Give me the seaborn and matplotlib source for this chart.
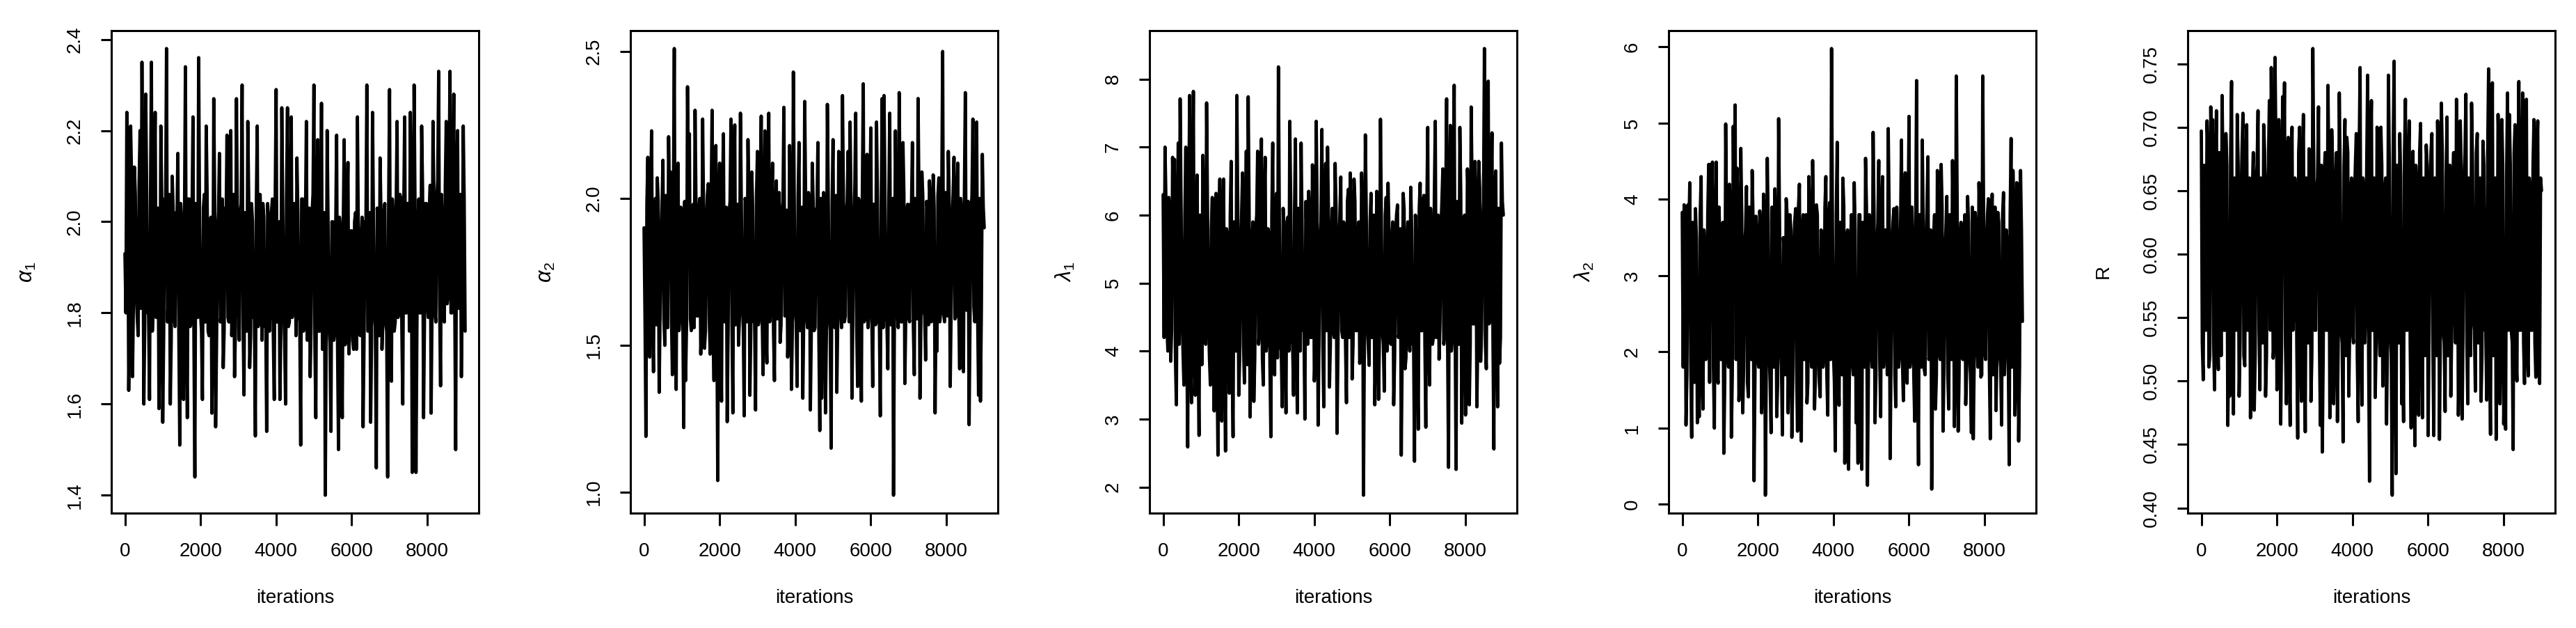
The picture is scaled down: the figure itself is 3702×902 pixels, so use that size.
import numpy as np
import pandas as pd
import matplotlib
matplotlib.use("Agg")
import matplotlib.pyplot as plt
import seaborn as sns

# ---------------- data ----------------
# Each trace is read from the reference in two parts: the excursions seen every
# ~50 iterations ("*_peaks") and the edges of the dense core band between them ("*_core").
n_iter = 9000

alpha1_peaks = [
    1.93, 2.24, 1.63, 2.21, 1.66, 2.12, 1.85, 1.75, 2.20, 2.35,
    1.60, 2.28, 1.80, 1.61, 2.35, 1.82, 2.24, 1.86, 1.59, 2.21,
    1.56, 2.05, 2.38, 1.84, 1.60, 2.10, 1.80, 2.02, 2.15, 1.51,
    2.00, 1.61, 2.34, 1.57, 2.05, 1.78, 2.23, 1.44, 2.02, 2.36,
    1.80, 1.61, 2.06, 2.21, 1.76, 2.00, 1.58, 2.27, 1.55, 1.98,
    2.15, 1.80, 1.68, 2.03, 2.19, 1.78, 2.20, 1.82, 1.66, 2.27,
    1.85, 2.02, 2.30, 1.62, 2.00, 2.22, 1.68, 2.04, 1.79, 1.53,
    2.21, 1.80, 1.98, 2.04, 1.77, 1.54, 2.00, 1.83, 2.05, 1.61,
    2.29, 1.80, 1.61, 2.25, 1.82, 1.60, 2.25, 1.78, 2.23, 1.84,
    2.02, 2.14, 1.80, 1.51, 2.05, 1.78, 2.22, 1.85, 1.66, 2.02,
    2.30, 1.57, 2.18, 1.76, 2.26, 1.82, 1.40, 2.20, 1.78, 1.54,
    2.00, 1.76, 2.19, 1.50, 1.98, 1.57, 2.18, 1.74, 2.13, 1.80,
    1.98, 1.72, 2.02, 2.23, 1.78, 1.96, 1.55, 2.00, 2.30, 1.76,
    1.56, 2.24, 1.80, 1.46, 1.98, 2.14, 1.72, 2.02, 1.78, 1.44,
    2.29, 1.65, 2.00, 1.78, 2.22, 1.82, 2.05, 1.60, 2.23, 1.80,
    2.04, 2.24, 1.45, 2.30, 1.45, 2.00, 1.80, 2.21, 1.57, 2.04,
    1.82, 2.02, 1.58, 2.22, 1.80, 2.05, 2.33, 1.64, 1.98, 1.78,
    2.22, 1.84, 2.33, 1.80, 2.28, 1.50, 2.20, 1.88, 1.66, 2.21,
    1.76,
]
alpha1_core = [
    1.80, 2.08, 1.78, 2.10, 1.82, 2.06, 1.79, 2.09, 1.81, 2.05,
    1.78, 2.07, 1.80, 2.04, 1.76, 2.06, 1.79, 2.03, 1.77, 2.05,
    1.75, 2.02, 1.78, 2.06, 1.74, 2.03, 1.77, 2.00, 1.76, 2.04,
    1.78, 2.01, 1.75, 2.05, 1.77, 2.02, 1.74, 2.04, 1.79, 2.00,
    1.76, 2.03, 1.78, 2.06, 1.75, 2.01, 1.77, 2.04, 1.74, 2.02,
    1.78, 2.05, 1.76, 2.00, 1.79, 2.03, 1.75, 2.06, 1.77, 2.01,
    1.74, 2.04, 1.78, 2.02, 1.76, 2.05, 1.75, 2.00, 1.79, 2.03,
    1.77, 2.06, 1.74, 2.01, 1.78, 2.04, 1.76, 2.02, 1.75, 2.05,
    1.78, 2.00, 1.76, 2.03, 1.74, 2.06, 1.77, 2.01, 1.79, 2.04,
    1.75, 2.02, 1.78, 2.05, 1.76, 2.00, 1.74, 2.03, 1.77, 2.06,
    1.73, 2.01, 1.76, 1.98, 1.72, 2.02, 1.75, 1.99, 1.73, 2.00,
    1.74, 1.98, 1.72, 2.01, 1.75, 1.99, 1.73, 2.02, 1.71, 1.98,
    1.74, 2.00, 1.72, 1.98, 1.75, 2.01, 1.73, 1.99, 1.76, 2.02,
    1.74, 2.00, 1.77, 2.03, 1.75, 2.01, 1.78, 2.04, 1.76, 2.02,
    1.78, 2.05, 1.76, 2.03, 1.79, 2.06, 1.77, 2.02, 1.80, 2.04,
    1.76, 2.06, 1.79, 2.03, 1.77, 2.05, 1.80, 2.07, 1.78, 2.04,
    1.79, 2.08, 1.81, 2.05, 1.78, 2.09, 1.82, 2.06, 1.80, 2.08,
    1.82, 2.10, 1.80, 2.07, 1.83, 2.09, 1.81, 2.06, 1.84, 2.05,
]

alpha2_peaks = [
    1.90, 1.19, 2.14, 1.46, 2.23, 1.41, 2.00, 2.07, 1.34, 1.85,
    2.13, 1.50, 1.95, 2.21, 2.09, 1.40, 2.51, 1.35, 2.12, 1.60,
    1.95, 1.22, 1.38, 2.38, 2.22, 1.55, 1.98, 2.30, 1.60, 1.96,
    1.47, 2.27, 1.49, 1.92, 2.05, 1.47, 2.30, 1.38, 2.18, 1.04,
    2.12, 1.31, 2.22, 1.62, 1.24, 1.95, 2.27, 1.27, 2.25, 1.60,
    1.50, 2.29, 1.65, 1.26, 1.98, 2.20, 1.33, 2.09, 1.58, 1.28,
    2.16, 1.60, 2.28, 1.40, 2.23, 1.44, 2.29, 1.62, 2.12, 1.38,
    2.06, 1.64, 1.51, 1.95, 2.31, 1.60, 1.46, 2.18, 1.35, 2.43,
    1.62, 1.36, 2.19, 1.58, 1.32, 2.33, 1.60, 2.02, 1.28, 2.12,
    1.55, 1.96, 2.19, 1.21, 1.32, 2.02, 1.27, 2.32, 1.60, 1.15,
    2.20, 1.56, 1.34, 2.16, 1.62, 2.35, 1.58, 1.95, 2.16, 2.26,
    1.32, 1.90, 2.29, 1.36, 1.98, 1.31, 2.39, 1.60, 2.15, 1.62,
    2.24, 1.36, 1.95, 2.26, 1.58, 1.26, 2.34, 2.35, 1.60, 1.42,
    2.29, 1.65, 0.99, 2.23, 1.62, 2.36, 1.58, 2.19, 1.37, 1.96,
    1.60, 1.98, 2.19, 1.40, 1.95, 2.34, 1.32, 2.09, 1.62, 1.45,
    1.96, 2.06, 1.58, 2.08, 1.27, 1.48, 2.07, 1.62, 2.50, 1.58,
    1.95, 2.16, 1.36, 1.92, 2.14, 1.60, 2.12, 1.42, 1.96, 1.41,
    2.36, 1.62, 1.23, 1.95, 2.27, 1.58, 2.26, 1.33, 1.31, 2.15,
    1.90,
]
alpha2_core = [
    1.60, 1.98, 1.58, 2.00, 1.62, 1.96, 1.57, 1.99, 1.61, 1.97,
    1.59, 2.01, 1.56, 1.98, 1.60, 1.95, 1.58, 2.00, 1.55, 1.97,
    1.61, 1.99, 1.57, 2.02, 1.59, 1.96, 1.56, 1.98, 1.60, 2.00,
    1.58, 1.97, 1.55, 2.01, 1.59, 1.98, 1.57, 1.96, 1.60, 1.99,
    1.56, 2.00, 1.58, 1.97, 1.55, 1.99, 1.59, 2.01, 1.57, 1.98,
    1.60, 1.96, 1.56, 2.00, 1.58, 1.98, 1.55, 1.97, 1.59, 2.01,
    1.57, 1.99, 1.60, 1.96, 1.56, 2.00, 1.58, 1.98, 1.55, 1.97,
    1.59, 2.02, 1.57, 1.99, 1.60, 1.96, 1.58, 2.03, 1.56, 1.98,
    1.58, 2.00, 1.55, 1.97, 1.59, 2.01, 1.56, 1.98, 1.54, 1.99,
    1.56, 1.97, 1.53, 2.00, 1.57, 1.96, 1.54, 1.99, 1.55, 1.98,
    1.57, 2.01, 1.59, 1.98, 1.56, 2.02, 1.60, 1.99, 1.58, 2.00,
    1.59, 2.03, 1.57, 2.00, 1.60, 2.02, 1.58, 1.99, 1.56, 2.01,
    1.60, 1.98, 1.57, 2.01, 1.59, 1.97, 1.56, 2.00, 1.58, 1.99,
    1.57, 2.00, 1.59, 1.96, 1.56, 1.99, 1.58, 2.02, 1.60, 1.98,
    1.58, 1.97, 1.56, 2.00, 1.59, 1.98, 1.57, 2.01, 1.60, 1.99,
    1.57, 2.00, 1.59, 1.97, 1.60, 2.01, 1.58, 1.99, 1.61, 2.02,
    1.60, 1.98, 1.62, 2.01, 1.59, 1.99, 1.63, 2.00, 1.61, 2.02,
    1.62, 1.99, 1.60, 2.01, 1.63, 1.98, 1.61, 2.00, 1.62, 1.97,
]

lambda1_peaks = [
    6.30, 7.00, 4.38, 6.26, 3.85, 6.85, 6.82, 3.21, 7.06, 7.71,
    4.60, 3.50, 7.00, 2.59, 7.76, 3.24, 7.82, 3.35, 6.59, 2.76,
    5.80, 6.88, 4.20, 7.65, 4.50, 3.50, 6.26, 3.12, 6.32, 2.47,
    6.53, 2.97, 6.53, 2.53, 5.70, 3.38, 6.79, 2.74, 5.60, 7.76,
    3.35, 5.50, 6.62, 3.53, 6.94, 7.74, 3.03, 5.60, 3.26, 5.80,
    6.94, 4.30, 7.12, 3.50, 6.85, 4.20, 5.70, 2.74, 7.06, 3.65,
    6.32, 8.18, 4.10, 3.18, 5.60, 3.09, 5.97, 7.38, 4.20, 3.35,
    7.12, 3.09, 5.80, 7.06, 4.30, 3.00, 5.70, 6.35, 4.20, 6.74,
    3.56, 7.38, 2.91, 5.60, 7.26, 3.18, 6.76, 7.00, 3.47, 5.70,
    4.30, 6.76, 2.79, 5.62, 6.56, 4.20, 5.80, 3.24, 6.38, 6.62,
    3.59, 6.53, 4.30, 5.70, 3.82, 6.62, 1.88, 7.18, 4.40, 3.79,
    6.32, 4.20, 3.21, 6.35, 3.29, 7.41, 4.30, 3.41, 6.26, 6.47,
    4.20, 5.60, 3.21, 5.70, 6.15, 4.30, 2.47, 6.32, 3.74, 5.60,
    4.40, 6.41, 4.10, 2.38, 5.50, 2.85, 6.47, 4.30, 6.29, 2.88,
    7.29, 3.50, 5.70, 4.20, 7.38, 4.40, 3.88, 5.80, 6.68, 4.30,
    7.71, 2.29, 7.32, 4.20, 7.91, 2.26, 5.60, 7.29, 2.94, 5.94,
    3.06, 6.68, 3.21, 7.59, 4.40, 6.79, 3.18, 6.79, 3.85, 5.80,
    8.45, 3.74, 7.97, 4.60, 7.21, 2.56, 6.65, 3.18, 3.82, 7.06,
    6.00,
]
lambda1_core = [
    4.2, 6.2, 4.0, 6.0, 4.3, 6.1, 3.9, 5.9, 4.1, 6.2,
    4.0, 6.0, 4.2, 5.8, 3.9, 6.1, 4.1, 5.9, 4.0, 6.0,
    3.8, 5.9, 4.1, 6.1, 3.9, 5.8, 4.0, 6.0, 3.8, 5.9,
    4.0, 6.1, 3.9, 5.8, 4.1, 6.0, 3.8, 5.9, 4.0, 6.1,
    3.9, 6.0, 4.1, 5.8, 3.8, 6.1, 4.0, 5.9, 3.9, 6.0,
    4.1, 5.9, 3.9, 6.2, 4.0, 5.8, 3.8, 6.0, 4.1, 6.1,
    3.9, 5.9, 4.0, 6.1, 4.2, 5.9, 4.0, 6.2, 4.1, 6.0,
    4.2, 6.1, 4.0, 5.9, 4.3, 6.2, 4.1, 6.0, 4.2, 6.1,
    4.0, 6.0, 4.2, 5.9, 4.1, 6.2, 4.3, 6.0, 4.1, 6.1,
    4.2, 6.1, 4.0, 6.0, 4.3, 5.9, 4.1, 6.2, 4.2, 6.0,
    4.1, 6.2, 4.3, 5.9, 4.0, 6.1, 4.2, 6.0, 4.1, 5.9,
    4.2, 6.0, 4.0, 6.1, 4.3, 5.9, 4.1, 6.0, 4.0, 5.8,
    4.1, 5.9, 3.9, 6.0, 4.2, 5.8, 4.0, 6.1, 3.9, 5.9,
    4.0, 5.8, 4.2, 6.0, 3.9, 6.1, 4.3, 6.2, 4.1, 6.0,
    4.3, 6.1, 4.1, 6.3, 4.2, 6.0, 4.4, 6.2, 4.1, 6.1,
    4.2, 6.3, 4.0, 6.1, 4.3, 6.2, 4.1, 6.3, 4.2, 6.0,
    4.3, 6.2, 4.1, 6.3, 4.4, 6.1, 4.2, 6.4, 4.3, 6.2,
    4.1, 6.3, 4.4, 6.2, 4.2, 6.4, 4.3, 6.1, 4.2, 6.2,
]

lambda2_peaks = [
    3.83, 3.93, 1.04, 3.93, 4.22, 0.88, 2.60, 3.88, 1.07, 1.15,
    4.30, 1.25, 3.33, 2.00, 4.46, 4.46, 4.49, 1.00, 4.49, 1.59,
    3.25, 2.00, 0.67, 4.99, 2.00, 4.20, 0.88, 4.96, 5.24, 4.41,
    1.36, 4.67, 1.20, 3.40, 4.17, 1.41, 3.30, 4.38, 0.31, 3.78,
    1.90, 3.85, 1.20, 4.07, 0.12, 4.54, 2.00, 0.94, 3.40, 4.14,
    1.15, 5.06, 2.10, 0.91, 3.30, 4.01, 1.20, 3.80, 0.88, 3.30,
    3.88, 0.96, 4.20, 0.83, 3.80, 2.00, 1.33, 4.30, 2.00, 4.51,
    1.25, 3.93, 2.10, 1.41, 3.40, 2.00, 4.30, 1.17, 3.96, 5.98,
    2.00, 0.70, 4.75, 1.30, 3.30, 4.28, 0.54, 3.49, 0.46, 3.30,
    1.90, 4.22, 1.07, 0.54, 3.80, 0.46, 3.20, 4.54, 0.25, 3.80,
    2.00, 4.88, 1.07, 3.40, 4.51, 1.15, 4.30, 2.00, 3.50, 4.93,
    0.60, 3.40, 3.88, 1.28, 3.30, 2.00, 4.78, 1.36, 4.35, 1.59,
    5.09, 2.00, 3.40, 1.09, 5.56, 0.52, 3.40, 4.78, 1.78, 3.30,
    4.56, 2.00, 0.20, 3.46, 1.25, 4.38, 2.00, 4.46, 0.96, 3.30,
    4.04, 1.25, 3.40, 4.51, 1.02, 5.62, 0.96, 3.46, 2.00, 3.40,
    1.31, 4.04, 2.00, 0.94, 0.86, 3.83, 2.10, 4.22, 1.67, 5.62,
    2.00, 3.40, 4.01, 0.86, 4.07, 2.00, 1.23, 3.83, 2.00, 1.04,
    4.09, 2.10, 3.40, 0.52, 4.80, 4.38, 1.17, 4.22, 0.83, 4.38,
    2.40,
]
lambda2_core = [
    1.8, 3.8, 1.7, 3.6, 1.9, 3.7, 1.6, 3.5, 1.8, 3.8,
    1.7, 3.6, 1.9, 3.8, 1.6, 3.7, 1.8, 3.5, 1.7, 3.9,
    1.9, 3.7, 1.6, 3.6, 1.8, 3.8, 1.7, 3.5, 1.9, 3.7,
    1.7, 3.8, 1.8, 3.6, 1.6, 3.9, 1.9, 3.7, 1.7, 3.5,
    1.8, 3.6, 1.7, 3.8, 1.9, 3.7, 1.6, 3.9, 1.8, 3.6,
    1.6, 3.7, 1.8, 3.5, 1.7, 3.8, 1.9, 3.6, 1.6, 3.7,
    1.8, 3.9, 1.7, 3.6, 1.9, 3.8, 1.6, 3.7, 1.8, 3.5,
    1.7, 3.8, 1.6, 3.6, 1.8, 3.9, 1.7, 3.7, 1.9, 3.6,
    1.6, 3.8, 1.8, 3.7, 1.7, 3.9, 1.6, 3.6, 1.8, 3.8,
    1.7, 3.6, 1.9, 3.8, 1.6, 3.7, 1.8, 3.9, 1.7, 3.6,
    1.8, 3.8, 1.7, 3.7, 1.9, 3.9, 1.8, 3.6, 1.7, 3.8,
    1.9, 3.7, 1.7, 3.9, 1.8, 3.6, 1.9, 3.8, 1.7, 3.7,
    1.8, 3.9, 1.7, 3.6, 1.9, 3.8, 1.8, 3.7, 1.7, 3.9,
    1.9, 3.6, 1.8, 3.8, 1.7, 3.7, 1.9, 3.9, 1.8, 3.6,
    1.7, 3.8, 1.9, 3.6, 1.8, 3.9, 1.7, 3.7, 1.9, 3.8,
    1.8, 3.7, 1.7, 3.9, 1.9, 3.6, 1.8, 3.8, 1.7, 3.7,
    1.9, 3.8, 1.8, 3.6, 1.7, 3.9, 1.9, 3.7, 1.8, 3.8,
    1.7, 3.6, 1.9, 3.8, 1.8, 3.7, 1.7, 3.9, 1.8, 3.6,
]

R_peaks = [
    0.697, 0.501, 0.640, 0.705, 0.511, 0.716, 0.706, 0.493, 0.713, 0.509,
    0.640, 0.725, 0.540, 0.695, 0.465, 0.488, 0.736, 0.474, 0.650, 0.710,
    0.488, 0.640, 0.711, 0.512, 0.702, 0.540, 0.471, 0.650, 0.477, 0.660,
    0.713, 0.493, 0.640, 0.702, 0.488, 0.650, 0.721, 0.747, 0.518, 0.755,
    0.493, 0.706, 0.466, 0.724, 0.735, 0.482, 0.692, 0.465, 0.700, 0.560,
    0.640, 0.455, 0.700, 0.484, 0.710, 0.460, 0.650, 0.683, 0.484, 0.762,
    0.540, 0.650, 0.716, 0.465, 0.444, 0.660, 0.540, 0.733, 0.471, 0.698,
    0.482, 0.650, 0.468, 0.727, 0.540, 0.452, 0.706, 0.692, 0.488, 0.650,
    0.540, 0.640, 0.695, 0.468, 0.747, 0.481, 0.650, 0.560, 0.741, 0.421,
    0.721, 0.540, 0.487, 0.700, 0.550, 0.700, 0.496, 0.650, 0.466, 0.741,
    0.540, 0.410, 0.752, 0.427, 0.650, 0.695, 0.482, 0.468, 0.722, 0.540,
    0.705, 0.463, 0.681, 0.449, 0.650, 0.473, 0.703, 0.471, 0.640, 0.686,
    0.457, 0.650, 0.695, 0.457, 0.650, 0.705, 0.454, 0.719, 0.540, 0.476,
    0.708, 0.540, 0.488, 0.650, 0.560, 0.722, 0.473, 0.705, 0.470, 0.650,
    0.726, 0.482, 0.640, 0.719, 0.550, 0.492, 0.695, 0.560, 0.484, 0.689,
    0.540, 0.485, 0.746, 0.458, 0.735, 0.560, 0.454, 0.710, 0.482, 0.706,
    0.466, 0.462, 0.727, 0.710, 0.540, 0.446, 0.702, 0.500, 0.736, 0.540,
    0.727, 0.498, 0.722, 0.504, 0.650, 0.540, 0.706, 0.503, 0.705, 0.498,
    0.650,
]
R_core = [
    0.53, 0.67, 0.54, 0.68, 0.52, 0.66, 0.53, 0.67, 0.54, 0.68,
    0.52, 0.66, 0.54, 0.67, 0.53, 0.68, 0.52, 0.66, 0.54, 0.67,
    0.53, 0.68, 0.52, 0.67, 0.54, 0.66, 0.53, 0.68, 0.52, 0.67,
    0.54, 0.66, 0.53, 0.68, 0.52, 0.67, 0.54, 0.66, 0.53, 0.68,
    0.52, 0.67, 0.54, 0.66, 0.53, 0.68, 0.52, 0.67, 0.54, 0.66,
    0.53, 0.68, 0.52, 0.67, 0.54, 0.66, 0.53, 0.68, 0.52, 0.67,
    0.54, 0.66, 0.53, 0.67, 0.52, 0.68, 0.54, 0.66, 0.53, 0.67,
    0.52, 0.68, 0.54, 0.66, 0.53, 0.67, 0.52, 0.68, 0.54, 0.66,
    0.53, 0.67, 0.52, 0.68, 0.54, 0.66, 0.53, 0.67, 0.52, 0.68,
    0.54, 0.66, 0.53, 0.68, 0.52, 0.67, 0.54, 0.66, 0.53, 0.67,
    0.52, 0.68, 0.54, 0.67, 0.53, 0.66, 0.52, 0.68, 0.54, 0.67,
    0.53, 0.66, 0.52, 0.67, 0.54, 0.68, 0.53, 0.66, 0.52, 0.67,
    0.54, 0.68, 0.53, 0.66, 0.52, 0.67, 0.54, 0.68, 0.53, 0.66,
    0.52, 0.67, 0.54, 0.68, 0.53, 0.66, 0.52, 0.67, 0.54, 0.68,
    0.53, 0.66, 0.52, 0.67, 0.54, 0.68, 0.53, 0.66, 0.52, 0.67,
    0.54, 0.68, 0.53, 0.67, 0.52, 0.66, 0.54, 0.68, 0.53, 0.67,
    0.52, 0.66, 0.54, 0.67, 0.53, 0.68, 0.52, 0.66, 0.54, 0.67,
    0.53, 0.68, 0.52, 0.66, 0.54, 0.67, 0.53, 0.68, 0.52, 0.66,
]

x_ticks = [0, 2000, 4000, 6000, 8000]
x_tick_labels = ["0", "2000", "4000", "6000", "8000"]
x_label = "iterations"

y_labels = [r"$\alpha_1$", r"$\alpha_2$", r"$\lambda_1$", r"$\lambda_2$", "R"]
y_ticks = [
    [1.4, 1.6, 1.8, 2.0, 2.2, 2.4],
    [1.0, 1.5, 2.0, 2.5],
    [2, 3, 4, 5, 6, 7, 8],
    [0, 1, 2, 3, 4, 5, 6],
    [0.40, 0.45, 0.50, 0.55, 0.60, 0.65, 0.70, 0.75],
]
y_tick_labels = [
    ["1.4", "1.6", "1.8", "2.0", "2.2", "2.4"],
    ["1.0", "1.5", "2.0", "2.5"],
    ["2", "3", "4", "5", "6", "7", "8"],
    ["0", "1", "2", "3", "4", "5", "6"],
    ["0.40", "0.45", "0.50", "0.55", "0.60", "0.65", "0.70", "0.75"],
]
series = [
    (alpha1_peaks, alpha1_core),
    (alpha2_peaks, alpha2_core),
    (lambda1_peaks, lambda1_core),
    (lambda2_peaks, lambda2_core),
    (R_peaks, R_core),
]


def trace_of(peaks, core):
    vals = np.empty(len(peaks) + len(core))
    vals[0::2] = peaks
    vals[1::2] = core
    return vals


# ---------------- style ----------------
sns.set_theme(style="ticks", rc={
    "axes.edgecolor": "black",
    "axes.linewidth": 2.2,
    "xtick.color": "black",
    "ytick.color": "black",
    "xtick.major.size": 13,
    "ytick.major.size": 11,
    "xtick.major.width": 2.2,
    "ytick.major.width": 2.2,
    "xtick.major.pad": 17,
    "ytick.major.pad": 17,
    "xtick.labelsize": 20,
    "ytick.labelsize": 20,
    "axes.labelsize": 20,
    "text.color": "black",
    "axes.labelcolor": "black",
})
plt.rcParams["font.family"] = ["Liberation Sans", "DejaVu Sans"]
plt.rcParams["mathtext.fontset"] = "custom"
plt.rcParams["mathtext.rm"] = "Liberation Sans"
plt.rcParams["mathtext.it"] = "Liberation Sans:italic"

W, H = 3702, 902
fig = plt.figure(figsize=(W / 100, H / 100), dpi=100)

ax_left0, ax_step, ax_w = 160, 746, 528
ax_top, ax_bottom = 44, 737

for i, (peaks, core) in enumerate(series):
    vals = trace_of(peaks, core)
    left = (ax_left0 + i * ax_step) / W
    ax = fig.add_axes([left, 1 - ax_bottom / H, ax_w / W, (ax_bottom - ax_top) / H])
    df = pd.DataFrame({"iteration": np.linspace(1, n_iter, len(vals)), "value": vals})
    sns.lineplot(data=df, x="iteration", y="value", ax=ax, color="black",
                 linewidth=3.4, estimator=None, sort=False)
    ax.margins(x=0.04, y=0.04)
    ax.set_xticks(x_ticks)
    ax.set_xticklabels(x_tick_labels)
    ax.set_yticks(y_ticks[i])
    ax.set_yticklabels(y_tick_labels[i], rotation=90, va="center")
    for sp in ax.spines.values():
        sp.set_visible(True)
        sp.set_linewidth(2.2)
    ax.set_xlabel(x_label, fontsize=20)
    ax.set_ylabel(y_labels[i], fontsize=22 if i < 4 else 20)
    ax.xaxis.set_label_coords(0.5, -0.176)
    ax.xaxis.label.set_va("center")
    ax.yaxis.set_label_coords(-0.229, 0.5)
    ax.yaxis.label.set_va("center")
    ax.grid(False)

fig.savefig("out.png", dpi=100, facecolor="white")
